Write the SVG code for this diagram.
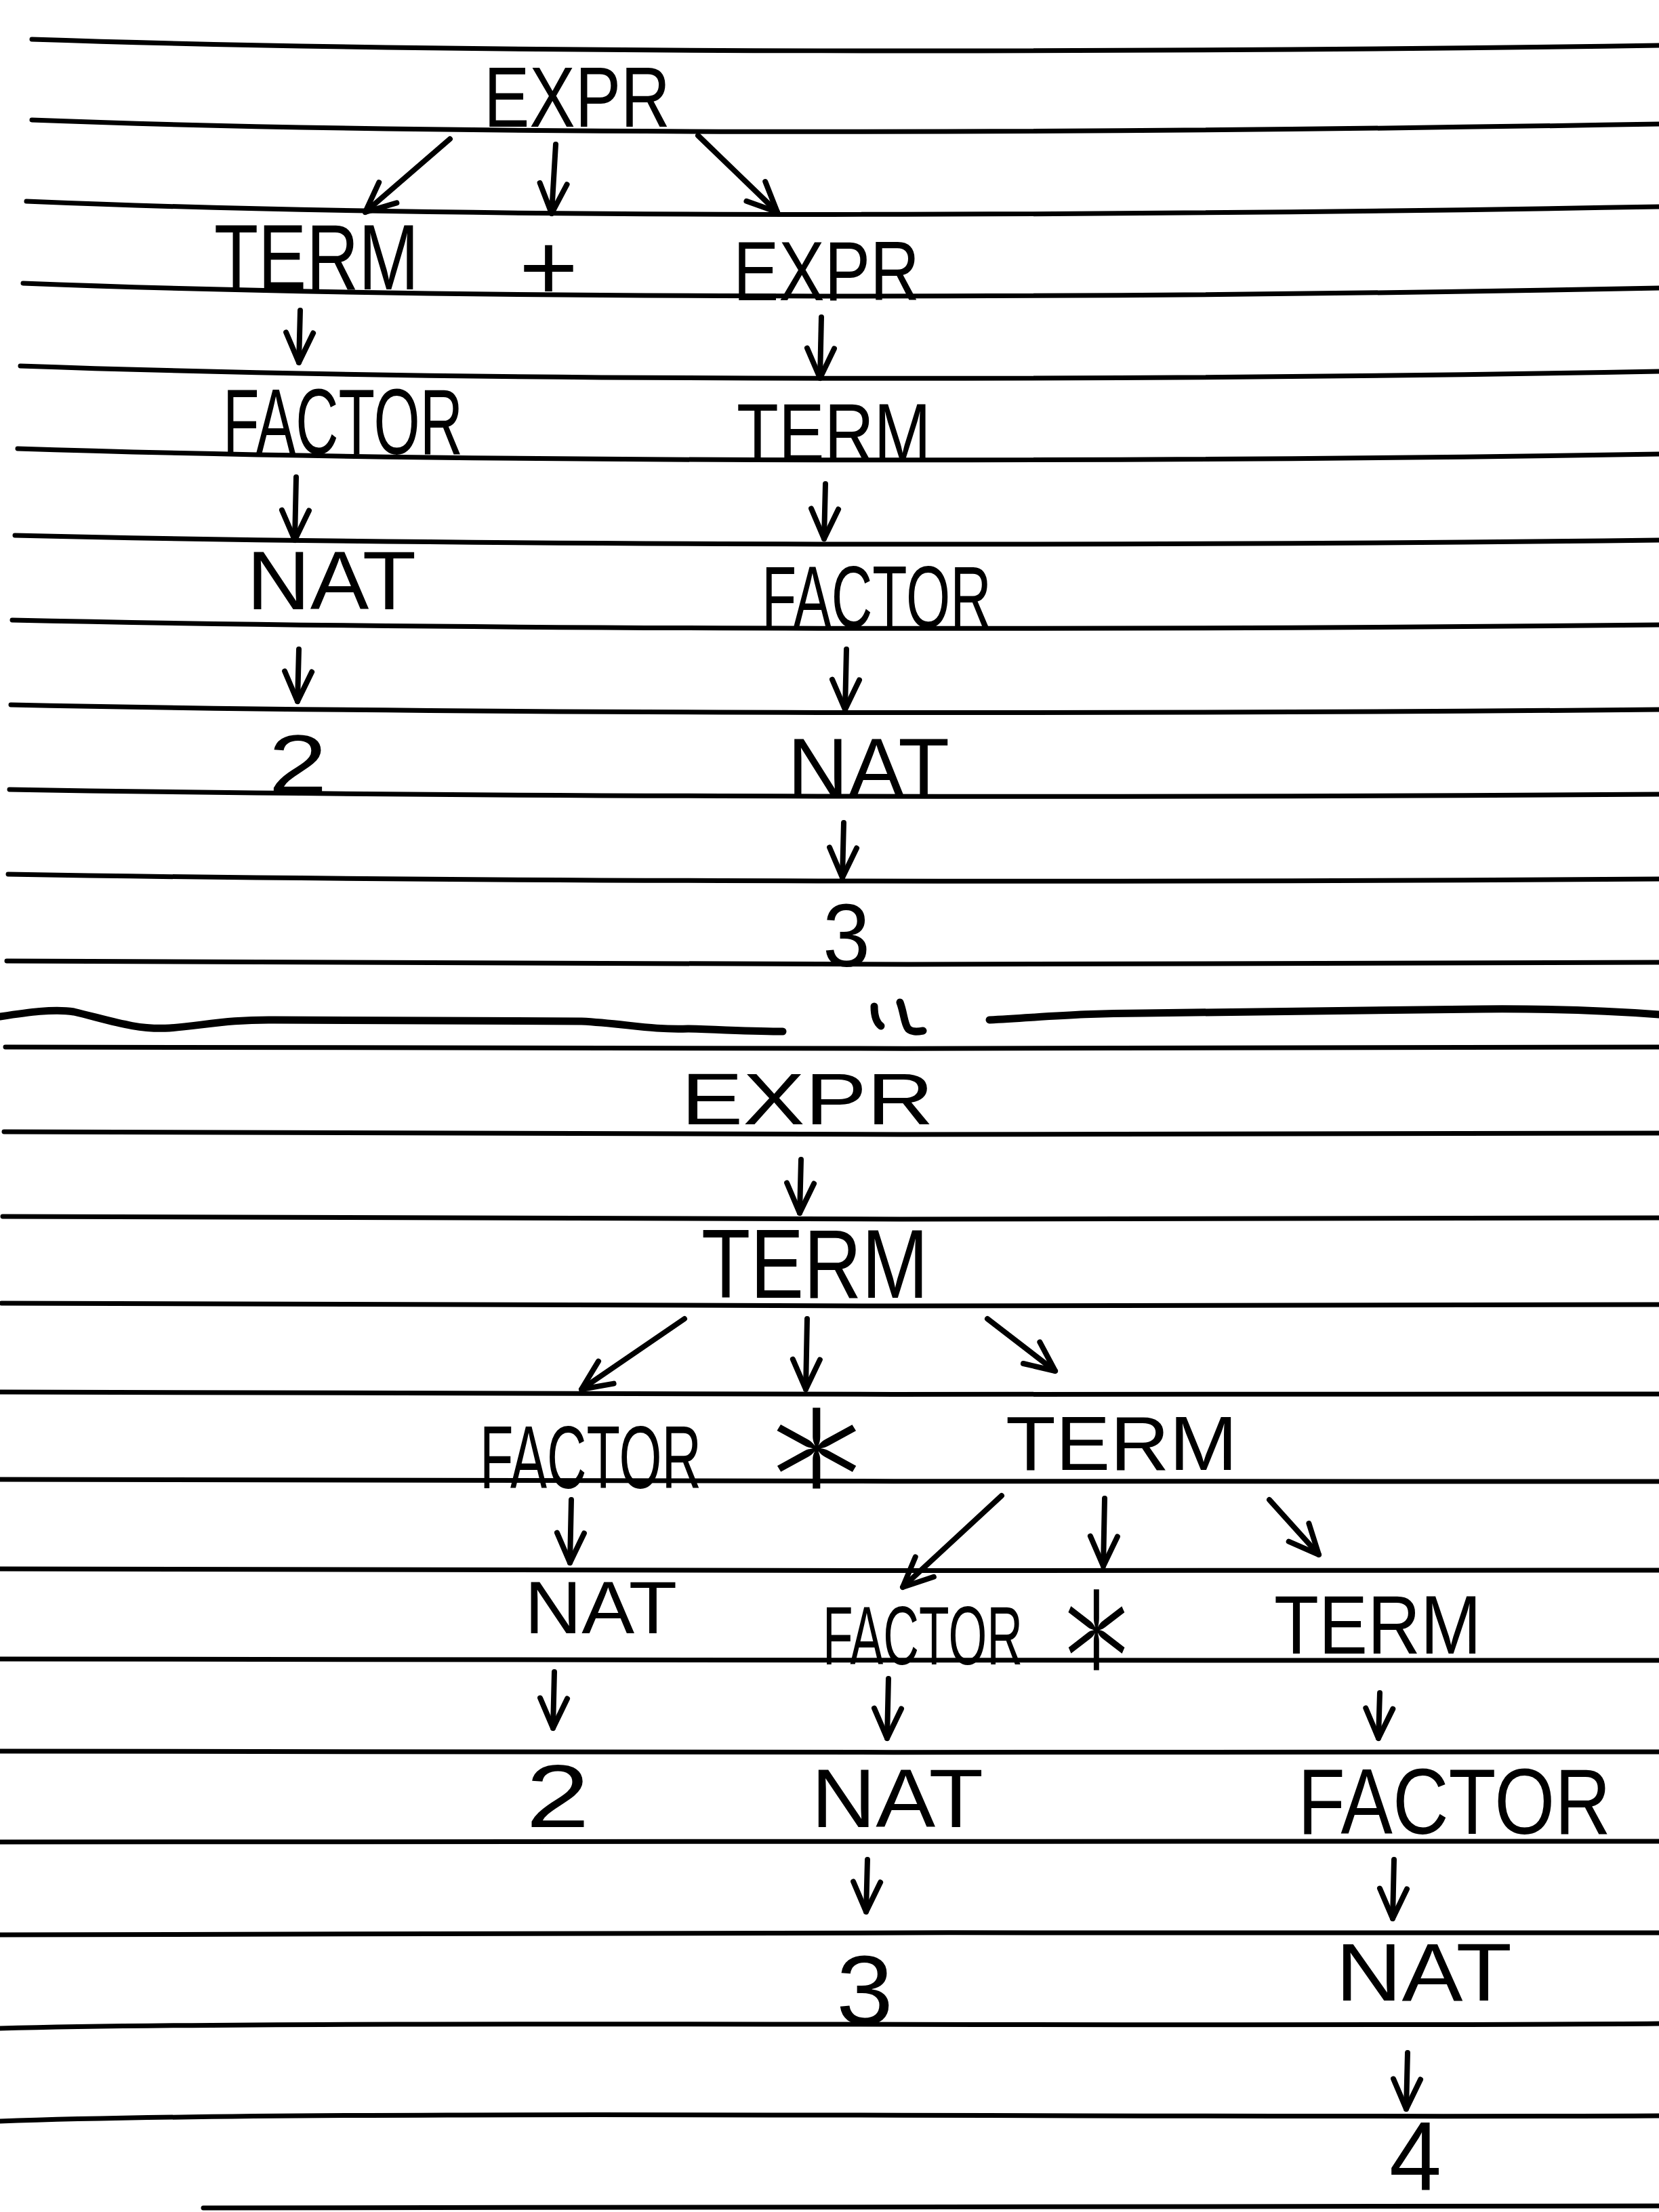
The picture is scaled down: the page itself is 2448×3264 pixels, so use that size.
<svg xmlns="http://www.w3.org/2000/svg" width="2448" height="3264" viewBox="0 0 2448 3264">
<defs>
<style>
.rule{fill:none;stroke:#000;stroke-width:7;stroke-linecap:round}
.div{fill:none;stroke:#000;stroke-width:11;stroke-linecap:round;stroke-linejoin:round}
.lbl{font-family:"Liberation Sans","DejaVu Sans",sans-serif;fill:#000}
.op{font-family:"Lato","Inter","Liberation Sans",sans-serif;font-weight:300;fill:#000}
.arr{fill:none;stroke:#000;stroke-width:8;stroke-linecap:round;marker-end:url(#ah)}
</style>
<marker id="ah" markerUnits="userSpaceOnUse" markerWidth="80" markerHeight="80" viewBox="-60 -40 80 80" refX="0" refY="0" orient="auto" overflow="visible">
<path d="M -44,-20 L 0,0 L -44,20" fill="none" stroke="#000" stroke-width="8" stroke-linecap="round" stroke-linejoin="round"/>
</marker>
</defs>
<rect width="2448" height="3264" fill="#fff"/>
<g id="ruled-lines">
<path class="rule" d="M47,58 C700,80 1700,78 2448,67"/>
<path class="rule" d="M47,177 C700,202 1700,196 2448,183"/>
<path class="rule" d="M39,297 C700,325 1700,318 2448,305"/>
<path class="rule" d="M34,418 C700,444 1700,440 2448,425"/>
<path class="rule" d="M30,540 C700,564 1700,562 2448,548"/>
<path class="rule" d="M26,662 C700,684 1700,682 2448,670"/>
<path class="rule" d="M22,790 C700,806 1700,806 2448,797"/>
<path class="rule" d="M18,915 C700,930 1700,930 2448,922"/>
<path class="rule" d="M16,1040 C700,1054 1700,1054 2448,1047"/>
<path class="rule" d="M14,1165 C700,1177 1700,1177 2448,1172"/>
<path class="rule" d="M12,1290 C700,1302 1700,1302 2448,1297"/>
<path class="rule" d="M10,1418 C700,1425 1700,1424 2448,1420"/>
<path class="rule" d="M8,1545 C700,1548 1700,1548 2448,1545"/>
<path class="rule" d="M6,1670 C700,1675 1700,1675 2448,1672"/>
<path class="rule" d="M4,1795 C700,1800 1700,1800 2448,1797"/>
<path class="rule" d="M2,1923 C700,1928 1700,1928 2448,1925"/>
<path class="rule" d="M0,2054 C700,2058 1700,2058 2448,2057"/>
<path class="rule" d="M0,2183 C700,2186 1700,2186 2448,2186"/>
<path class="rule" d="M0,2315 C700,2318 1700,2318 2448,2317"/>
<path class="rule" d="M0,2448 C700,2450 1700,2450 2448,2450"/>
<path class="rule" d="M0,2584 C700,2586 1700,2586 2448,2585"/>
<path class="rule" d="M0,2718 C700,2716 1700,2718 2448,2717"/>
<path class="rule" d="M0,2855 C600,2848 1700,2854 2448,2852"/>
<path class="rule" d="M0,2993 C500,2980 1700,2992 2448,2986"/>
<path class="rule" d="M0,3130 C500,3112 1700,3126 2448,3122"/>
<path class="rule" d="M300,3258 C1000,3256 1700,3258 2448,3255"/>
</g>
<g id="divider">
<path class="div" d="M0,1500 C40,1494 80,1488 109,1493 C160,1505 200,1520 250,1517 C300,1513 340,1504 406,1505 L858,1507 C920,1510 960,1520 1015,1518 C1080,1520 1120,1522 1155,1522"/>
<path class="div" d="M1460,1505 C1550,1500 1600,1495 1686,1495 C1900,1494 2050,1490 2185,1489 C2300,1488 2380,1492 2448,1497"/>
<path class="div" d="M1290,1485 C1290,1498 1292,1508 1300,1514" stroke-width="9"/>
<path class="div" d="M1328,1479 C1334,1495 1334,1510 1340,1518 C1345,1523 1352,1523 1362,1521" stroke-width="9"/>
</g>
<g id="connectors">
<path class="arr" d="M664,205 L539,313"/>
<path class="arr" d="M820,213 L814,315"/>
<path class="arr" d="M1030,200 L1147,313"/>
<path class="arr" d="M443,458 L441,535"/>
<path class="arr" d="M1212,468 L1210,558"/>
<path class="arr" d="M437,704 L435,797"/>
<path class="arr" d="M1218,714 L1216,795"/>
<path class="arr" d="M441,958 L439,1035"/>
<path class="arr" d="M1249,958 L1247,1047"/>
<path class="arr" d="M1245,1214 L1243,1295"/>
<path class="arr" d="M1182,1711 L1180,1790"/>
<path class="arr" d="M1010,1946 L858,2050"/>
<path class="arr" d="M1191,1946 L1189,2050"/>
<path class="arr" d="M1457,1946 L1557,2023"/>
<path class="arr" d="M843,2213 L841,2306"/>
<path class="arr" d="M1478,2207 L1332,2342"/>
<path class="arr" d="M1630,2211 L1628,2311"/>
<path class="arr" d="M1873,2213 L1946,2294"/>
<path class="arr" d="M818,2467 L816,2550"/>
<path class="arr" d="M1311,2477 L1309,2565"/>
<path class="arr" d="M2036,2498 L2034,2565"/>
<path class="arr" d="M1280,2744 L1278,2821"/>
<path class="arr" d="M2057,2744 L2055,2831"/>
<path class="arr" d="M2077,3029 L2075,3112"/>
</g>
<g id="n-expr-top"><text class="lbl" x="714" y="187" font-size="126" textLength="275" lengthAdjust="spacingAndGlyphs">EXPR</text></g>
<g id="n-term-1"><text class="lbl" x="316" y="427" font-size="137" textLength="302" lengthAdjust="spacingAndGlyphs">TERM</text></g>
<g id="n-plus"><text class="lbl" x="766" y="442" font-size="140" textLength="87" lengthAdjust="spacingAndGlyphs">+</text></g>
<g id="n-expr-2"><text class="lbl" x="1082" y="443" font-size="124" textLength="275" lengthAdjust="spacingAndGlyphs">EXPR</text></g>
<g id="n-factor-1"><text class="lbl" x="329" y="670" font-size="137" textLength="354" lengthAdjust="spacingAndGlyphs">FACTOR</text></g>
<g id="n-term-2"><text class="lbl" x="1087" y="681" font-size="123" textLength="287" lengthAdjust="spacingAndGlyphs">TERM</text></g>
<g id="n-nat-1"><text class="lbl" x="364" y="899" font-size="122" textLength="250" lengthAdjust="spacingAndGlyphs">NAT</text></g>
<g id="n-factor-2"><text class="lbl" x="1124" y="926" font-size="130" textLength="339" lengthAdjust="spacingAndGlyphs">FACTOR</text></g>
<g id="n-2-top"><text class="lbl" x="396" y="1170" font-size="123" textLength="87" lengthAdjust="spacingAndGlyphs">2</text></g>
<g id="n-nat-2"><text class="lbl" x="1162" y="1176" font-size="124" textLength="239" lengthAdjust="spacingAndGlyphs">NAT</text></g>
<g id="n-3-top"><text class="lbl" x="1214" y="1426" font-size="131" textLength="70" lengthAdjust="spacingAndGlyphs">3</text></g>
<g id="n-expr-bottom"><text class="lbl" x="1005" y="1659" font-size="108" textLength="373" lengthAdjust="spacingAndGlyphs">EXPR</text></g>
<g id="n-term-3"><text class="lbl" x="1035" y="1915" font-size="145" textLength="335" lengthAdjust="spacingAndGlyphs">TERM</text></g>
<g id="n-factor-3"><text class="lbl" x="708" y="2196" font-size="131" textLength="327" lengthAdjust="spacingAndGlyphs">FACTOR</text></g>
<g id="n-times-1"><text class="op" x="1115" y="2376" font-size="400" textLength="180" lengthAdjust="spacingAndGlyphs">*</text></g>
<g id="n-term-4"><text class="lbl" x="1484" y="2169" font-size="113" textLength="342" lengthAdjust="spacingAndGlyphs">TERM</text></g>
<g id="n-nat-3"><text class="lbl" x="774" y="2410" font-size="110" textLength="225" lengthAdjust="spacingAndGlyphs">NAT</text></g>
<g id="n-factor-4"><text class="lbl" x="1214" y="2456" font-size="122" textLength="295" lengthAdjust="spacingAndGlyphs">FACTOR</text></g>
<g id="n-times-2"><text class="op" x="1554" y="2644" font-size="400" textLength="128" lengthAdjust="spacingAndGlyphs">*</text></g>
<g id="n-term-5"><text class="lbl" x="1880" y="2440" font-size="123" textLength="306" lengthAdjust="spacingAndGlyphs">TERM</text></g>
<g id="n-2-bottom"><text class="lbl" x="776" y="2696" font-size="131" textLength="94" lengthAdjust="spacingAndGlyphs">2</text></g>
<g id="n-nat-4"><text class="lbl" x="1197" y="2696" font-size="123" textLength="254" lengthAdjust="spacingAndGlyphs">NAT</text></g>
<g id="n-factor-5"><text class="lbl" x="1915" y="2706" font-size="138" textLength="462" lengthAdjust="spacingAndGlyphs">FACTOR</text></g>
<g id="n-3-bottom"><text class="lbl" x="1234" y="2987" font-size="145" textLength="84" lengthAdjust="spacingAndGlyphs">3</text></g>
<g id="n-nat-5"><text class="lbl" x="1971" y="2952" font-size="120" textLength="260" lengthAdjust="spacingAndGlyphs">NAT</text></g>
<g id="n-4"><text class="lbl" x="2050" y="3232" font-size="145" textLength="77" lengthAdjust="spacingAndGlyphs">4</text></g>
</svg>
